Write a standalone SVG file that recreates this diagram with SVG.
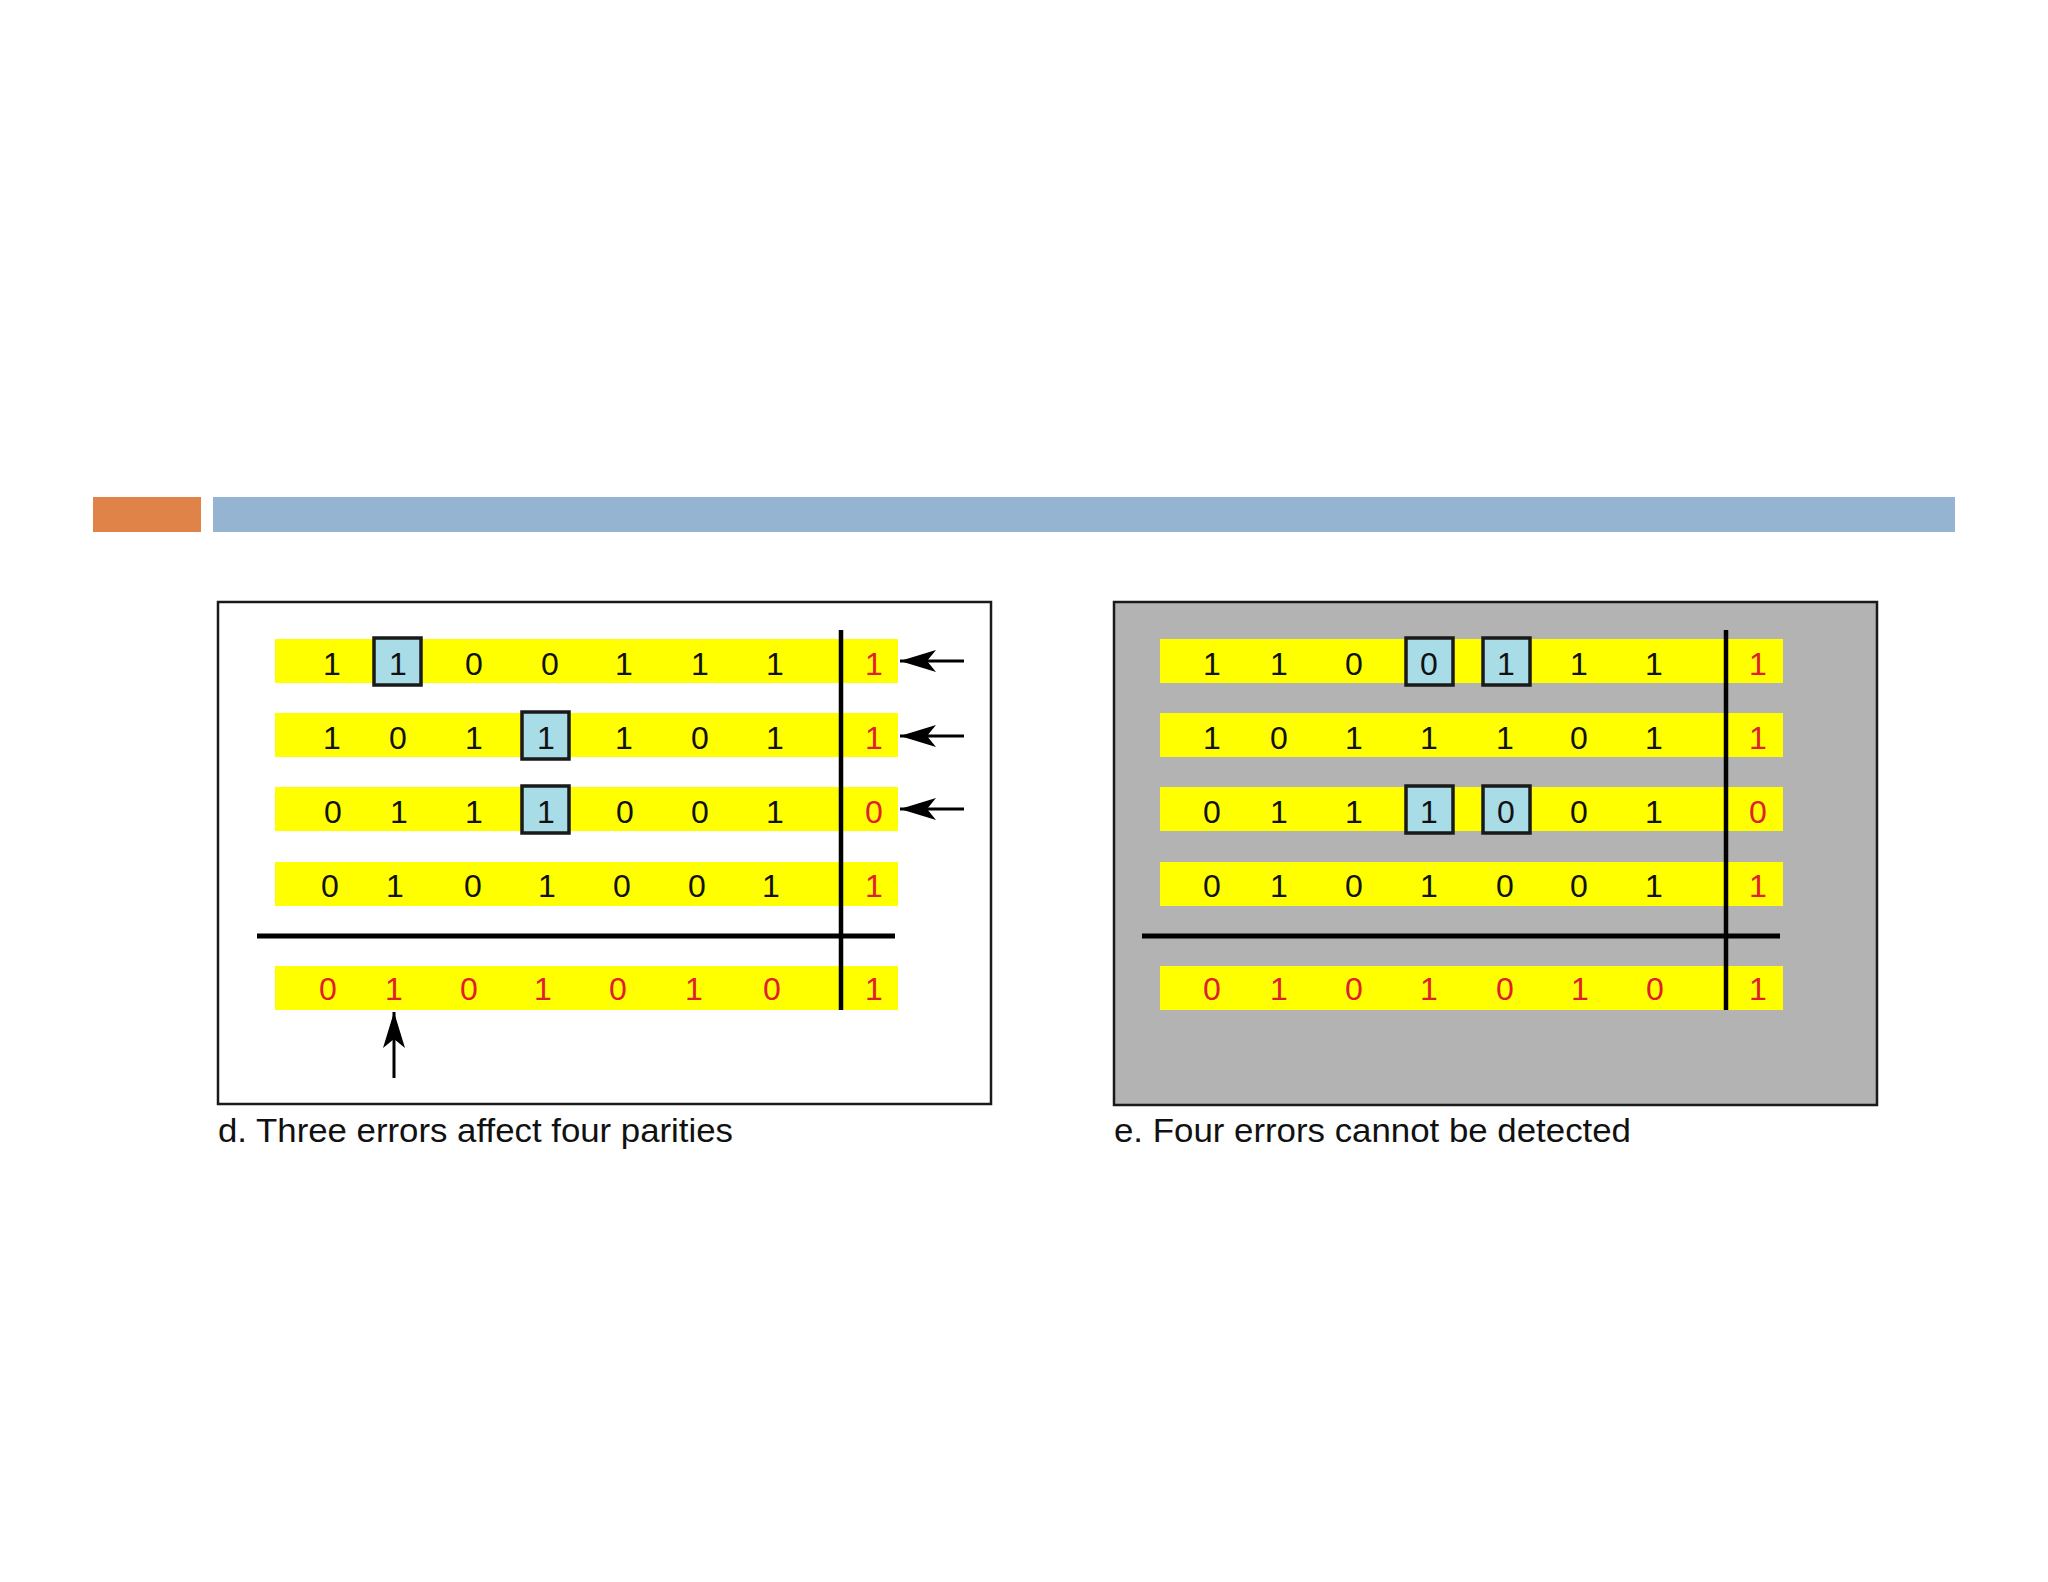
<svg xmlns="http://www.w3.org/2000/svg" width="2048" height="1582" viewBox="0 0 2048 1582">
<style>
.bar{fill:#ffff00}
.d{font-family:"Liberation Sans",Arial,sans-serif;font-size:32px;fill:#111;text-anchor:middle}
.r{fill:#e0202e}
.bx{fill:#a8dce6;stroke:#1a1a1a;stroke-width:3.5}
.ln{stroke:#000;fill:none}
.cap{font-family:"Liberation Sans",Arial,sans-serif;font-size:33px;fill:#111}
</style>
<defs>
<marker id="ah" viewBox="-38 -13 40 26" refX="0" refY="0" markerWidth="40" markerHeight="26" markerUnits="userSpaceOnUse" orient="auto">
<path d="M0,0 L-36,-11 L-27,0 L-36,11 Z" fill="#000"/>
</marker>
</defs>
<rect width="2048" height="1582" fill="#fff"/>
<g id="header">
<rect x="93" y="497" width="108" height="35" fill="#df8349"/>
<rect x="213" y="497" width="1742" height="35" fill="#94b4d2"/>
</g>
<g id="panel-d">
<rect x="218" y="602" width="773" height="502" fill="#fff" stroke="#1a1a1a" stroke-width="2.5"/>
<rect class="bar" x="275" y="639" width="623" height="44"/>
<rect class="bar" x="275" y="713" width="623" height="44"/>
<rect class="bar" x="275" y="787" width="623" height="44"/>
<rect class="bar" x="275" y="862" width="623" height="44"/>
<rect class="bar" x="275" y="966" width="623" height="44"/>
<rect class="bx" x="374" y="638" width="47" height="47"/>
<rect class="bx" x="522" y="712" width="47" height="47"/>
<rect class="bx" x="522" y="786" width="47" height="47"/>
<g class="d">
<text x="332" y="675">1</text><text x="398" y="675">1</text><text x="474" y="675">0</text><text x="550" y="675">0</text><text x="624" y="675">1</text><text x="700" y="675">1</text><text x="775" y="675">1</text><text class="r" x="874" y="675">1</text>
<text x="332" y="749">1</text><text x="398" y="749">0</text><text x="474" y="749">1</text><text x="546" y="749">1</text><text x="624" y="749">1</text><text x="700" y="749">0</text><text x="775" y="749">1</text><text class="r" x="874" y="749">1</text>
<text x="333" y="823">0</text><text x="399" y="823">1</text><text x="474" y="823">1</text><text x="546" y="823">1</text><text x="625" y="823">0</text><text x="700" y="823">0</text><text x="775" y="823">1</text><text class="r" x="874" y="823">0</text>
<text x="330" y="897">0</text><text x="395" y="897">1</text><text x="473" y="897">0</text><text x="547" y="897">1</text><text x="622" y="897">0</text><text x="697" y="897">0</text><text x="771" y="897">1</text><text class="r" x="874" y="897">1</text>
<g class="r"><text x="328" y="1000">0</text><text x="394" y="1000">1</text><text x="469" y="1000">0</text><text x="543" y="1000">1</text><text x="618" y="1000">0</text><text x="694" y="1000">1</text><text x="772" y="1000">0</text><text x="874" y="1000">1</text></g>
</g>
<text class="cap" x="218" y="1142" textLength="515" lengthAdjust="spacingAndGlyphs">d. Three errors affect four parities</text>
</g>
<g id="panel-e">
<rect x="1114" y="602" width="763" height="503" fill="#b3b3b3" stroke="#1a1a1a" stroke-width="2.5"/>
<rect class="bar" x="1160" y="639" width="623" height="44"/>
<rect class="bar" x="1160" y="713" width="623" height="44"/>
<rect class="bar" x="1160" y="787" width="623" height="44"/>
<rect class="bar" x="1160" y="862" width="623" height="44"/>
<rect class="bar" x="1160" y="966" width="623" height="44"/>
<rect class="bx" x="1406" y="638" width="47" height="47"/>
<rect class="bx" x="1483" y="638" width="47" height="47"/>
<rect class="bx" x="1406" y="786" width="47" height="47"/>
<rect class="bx" x="1483" y="786" width="47" height="47"/>
<g class="d">
<text x="1212" y="675">1</text><text x="1279" y="675">1</text><text x="1354" y="675">0</text><text x="1429" y="675">0</text><text x="1506" y="675">1</text><text x="1579" y="675">1</text><text x="1654" y="675">1</text><text class="r" x="1758" y="675">1</text>
<text x="1212" y="749">1</text><text x="1279" y="749">0</text><text x="1354" y="749">1</text><text x="1429" y="749">1</text><text x="1505" y="749">1</text><text x="1579" y="749">0</text><text x="1654" y="749">1</text><text class="r" x="1758" y="749">1</text>
<text x="1212" y="823">0</text><text x="1279" y="823">1</text><text x="1354" y="823">1</text><text x="1429" y="823">1</text><text x="1506" y="823">0</text><text x="1579" y="823">0</text><text x="1654" y="823">1</text><text class="r" x="1758" y="823">0</text>
<text x="1212" y="897">0</text><text x="1279" y="897">1</text><text x="1354" y="897">0</text><text x="1429" y="897">1</text><text x="1505" y="897">0</text><text x="1579" y="897">0</text><text x="1654" y="897">1</text><text class="r" x="1758" y="897">1</text>
<g class="r"><text x="1212" y="1000">0</text><text x="1279" y="1000">1</text><text x="1354" y="1000">0</text><text x="1429" y="1000">1</text><text x="1505" y="1000">0</text><text x="1580" y="1000">1</text><text x="1655" y="1000">0</text><text x="1758" y="1000">1</text></g>
</g>
<text class="cap" x="1114" y="1142" textLength="517" lengthAdjust="spacingAndGlyphs">e. Four errors cannot be detected</text>
</g>
<g id="connectors">
<line class="ln" x1="841" y1="630" x2="841" y2="1010" stroke-width="4.5"/>
<line class="ln" x1="257" y1="936" x2="895" y2="936" stroke-width="5"/>
<line class="ln" x1="1726" y1="630" x2="1726" y2="1010" stroke-width="4.5"/>
<line class="ln" x1="1142" y1="936" x2="1780" y2="936" stroke-width="5"/>
<line class="ln" x1="964" y1="661" x2="900" y2="661" stroke-width="3" marker-end="url(#ah)"/>
<line class="ln" x1="964" y1="736" x2="900" y2="736" stroke-width="3" marker-end="url(#ah)"/>
<line class="ln" x1="964" y1="809" x2="900" y2="809" stroke-width="3" marker-end="url(#ah)"/>
<line class="ln" x1="394" y1="1078" x2="394" y2="1012" stroke-width="3" marker-end="url(#ah)"/>
</g>
</svg>
